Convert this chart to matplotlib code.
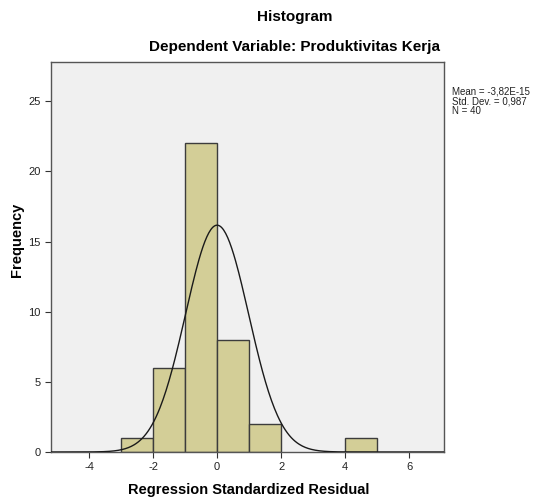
import numpy as np
import matplotlib
matplotlib.use("Agg")
import matplotlib.pyplot as plt

plt.rcParams['font.family'] = ['Liberation Sans', 'DejaVu Sans']
plt.rcParams['axes.unicode_minus'] = False

# histogram bins (left edges) and counts
bin_edges = [-3, -2, -1, 0, 1, 2, 3, 4, 5]
counts = [1, 6, 22, 8, 2, 0, 0, 1]
mean = -3.82e-15
std = 0.987
n = 40

fig = plt.figure(figsize=(5.35, 5.0), dpi=100)
ax = fig.add_axes([0.0953, 0.096, 0.7346, 0.78])
ax.set_facecolor('#f0f0f0')

lefts = np.array(bin_edges[:-1])
widths = np.diff(bin_edges)
mask = np.array(counts) > 0
ax.bar(lefts[mask], np.array(counts)[mask], width=widths[mask], align='edge',
       color='#d3ce97', edgecolor='#3c3c3c', linewidth=1.0, zorder=2)

xs = np.linspace(-5.2, 7.2, 400)
ys = n * 1.0 / (std * np.sqrt(2 * np.pi)) * np.exp(-0.5 * ((xs - mean) / std) ** 2)
ax.plot(xs, ys, color='#1a1a1a', linewidth=1.0, zorder=3)

ax.set_xlim(-5.19, 7.09)
ax.set_ylim(0, 27.8)
ax.set_xticks([-4, -2, 0, 2, 4, 6])
ax.set_yticks([0, 5, 10, 15, 20, 25])
ax.tick_params(labelsize=8, length=4, width=0.8, color='#333333', labelcolor='#222222')
for s in ax.spines.values():
    s.set_color('#555555')
    s.set_linewidth(1.0)

fig.text(0.465, 0.02, 'Regression Standardized Residual', ha='center', va='center',
         fontsize=10.5, fontweight='bold')
fig.text(0.032, 0.52, 'Frequency', ha='center', va='center', rotation=90,
         fontsize=10.5, fontweight='bold')

fig.text(0.55, 0.966, 'Histogram', ha='center', va='center', fontsize=11, fontweight='bold')
fig.text(0.55, 0.906, 'Dependent Variable: Produktivitas Kerja', ha='center', va='center',
         fontsize=11, fontweight='bold')

fig.text(0.845, 0.828, 'Mean = -3,82E-15\nStd. Dev. = 0,987\nN = 40', ha='left', va='top',
         fontsize=7, linespacing=1.0, color='#222222')

fig.savefig('out.png', dpi=100)
